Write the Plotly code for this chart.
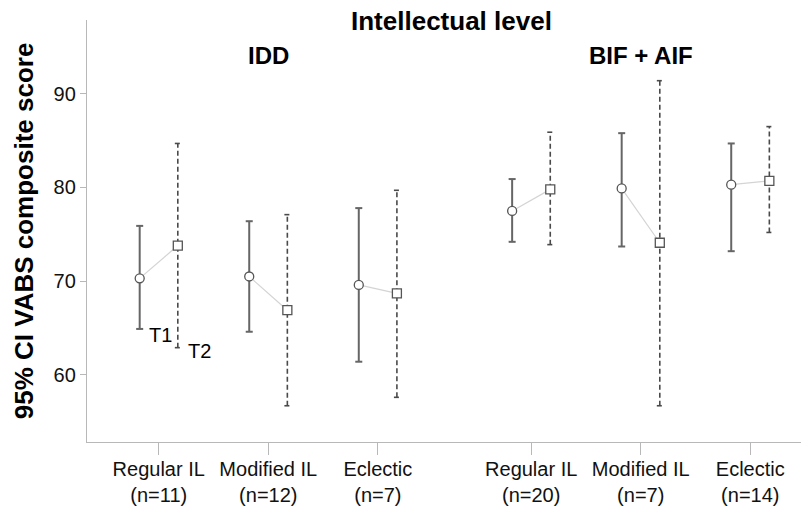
import plotly.graph_objects as go

# ---- data ----
categories = ["Regular IL", "Modified IL", "Eclectic", "Regular IL", "Modified IL", "Eclectic"]
n_sizes = [11, 12, 7, 20, 7, 14]
group_of = [0, 0, 0, 1, 1, 1]
group_names = ["IDD", "BIF + AIF"]

t1_mean = [70.3, 70.5, 69.6, 77.5, 79.9, 80.3]
t1_low = [64.9, 64.6, 61.4, 74.2, 73.7, 73.2]
t1_high = [75.9, 76.4, 77.8, 80.9, 85.8, 84.7]

t2_mean = [73.8, 66.9, 68.7, 79.8, 74.1, 80.7]
t2_low = [62.9, 56.7, 57.6, 73.9, 56.7, 75.2]
t2_high = [84.7, 77.1, 79.7, 85.9, 91.4, 86.5]

y_ticks = [60, 70, 80, 90]

# ---- layout parameters ----
GROUP_GAP = 0.4
OFFSET = 0.174
CAP = 0.032
FONT = "Arial, Liberation Sans, sans-serif"

centers = [i + GROUP_GAP * g for i, g in enumerate(group_of)]
x1 = [c - OFFSET for c in centers]
x2 = [c + OFFSET for c in centers]


def bar_segments(xs, lows, highs, cap):
    X, Y = [], []
    for x, lo, hi in zip(xs, lows, highs):
        X += [x, x, None, x - cap, x + cap, None, x - cap, x + cap, None]
        Y += [lo, hi, None, lo, lo, None, hi, hi, None]
    return X, Y


fig = go.Figure()

# connecting light lines between T1 and T2
cx, cy = [], []
for a, b, m1, m2 in zip(x1, x2, t1_mean, t2_mean):
    cx += [a, b, None]
    cy += [m1, m2, None]
fig.add_trace(go.Scatter(x=cx, y=cy, mode="lines",
                         line=dict(color="#d4d4d4", width=1.2),
                         hoverinfo="skip", showlegend=False))

# T1 error bars (solid)
ex, ey = bar_segments(x1, t1_low, t1_high, CAP)
fig.add_trace(go.Scatter(x=ex, y=ey, mode="lines",
                         line=dict(color="#666666", width=2),
                         hoverinfo="skip", showlegend=False))

# T2 error bars (dashed)
ex, ey = bar_segments(x2, t2_low, t2_high, CAP * 0.85)
fig.add_trace(go.Scatter(x=ex, y=ey, mode="lines",
                         line=dict(color="#4a4a4a", width=1.6, dash="5px,3px"),
                         hoverinfo="skip", showlegend=False))

# markers
fig.add_trace(go.Scatter(x=x1, y=t1_mean, mode="markers", name="T1",
                         marker=dict(symbol="circle", size=9, color="white",
                                     line=dict(color="#555555", width=1.3)),
                         showlegend=False))
fig.add_trace(go.Scatter(x=x2, y=t2_mean, mode="markers", name="T2",
                         marker=dict(symbol="square", size=9, color="white",
                                     line=dict(color="#555555", width=1.3)),
                         showlegend=False))

tick_text = [f"{c}<br>(n={n})" for c, n in zip(categories, n_sizes)]

# the page body adds an 8px offset, so the figure is sized/placed to compensate
fig.update_layout(
    template="none",
    width=801, height=502,
    margin=dict(l=79.3, r=0, t=12, b=68.3, autoexpand=False),
    plot_bgcolor="white", paper_bgcolor="white",
    font=dict(family=FONT, size=20, color="#111111"),
    xaxis=dict(range=[-0.655, 5.936], tickmode="array", tickvals=centers,
               ticktext=tick_text, showgrid=False, zeroline=False, automargin=False,
               showline=True, linecolor="#b8b8b8", linewidth=1.3,
               ticks="outside", ticklen=12, tickcolor="#b8b8b8", tickwidth=1.3,
               ticklabelstandoff=-3,
               tickfont=dict(size=20, family=FONT, color="#111111")),
    yaxis=dict(range=[52.83, 97.88], tickmode="array", tickvals=y_ticks,
               showgrid=False, zeroline=False, automargin=False,
               showline=True, linecolor="#b8b8b8", linewidth=1.3,
               ticks="outside", ticklen=6, tickcolor="#b8b8b8", tickwidth=1.3,
               tickfont=dict(size=20, family=FONT, color="#111111")),
)

annotations = [
    dict(text="<b>Intellectual level</b>", xref="paper", yref="paper",
         x=0.505, y=0.997, xanchor="center", yanchor="middle", showarrow=False,
         font=dict(size=26, family=FONT, color="#000000")),
    dict(text="<b>95% CI VABS composite score</b>", xref="paper", yref="paper",
         x=-0.0877, y=0.501, xanchor="center", yanchor="middle", textangle=-90,
         showarrow=False, font=dict(size=26, family=FONT, color="#000000")),
    dict(text="T1", xref="x", yref="y", x=0.014, y=64.23, xanchor="center",
         yanchor="middle", showarrow=False, font=dict(size=20, family=FONT, color="#000000")),
    dict(text="T2", xref="x", yref="y", x=0.374, y=62.52, xanchor="center",
         yanchor="middle", showarrow=False, font=dict(size=20, family=FONT, color="#000000")),
]
for g, name in enumerate(group_names):
    gc = [c for c, gg in zip(centers, group_of) if gg == g]
    annotations.append(dict(text=f"<b>{name}</b>", xref="x", yref="paper",
                            x=sum(gc) / len(gc), y=0.917, xanchor="center",
                            yanchor="middle", showarrow=False,
                            font=dict(size=24, family=FONT, color="#000000")))
fig.update_layout(annotations=annotations)

fig.write_html("out.html")
